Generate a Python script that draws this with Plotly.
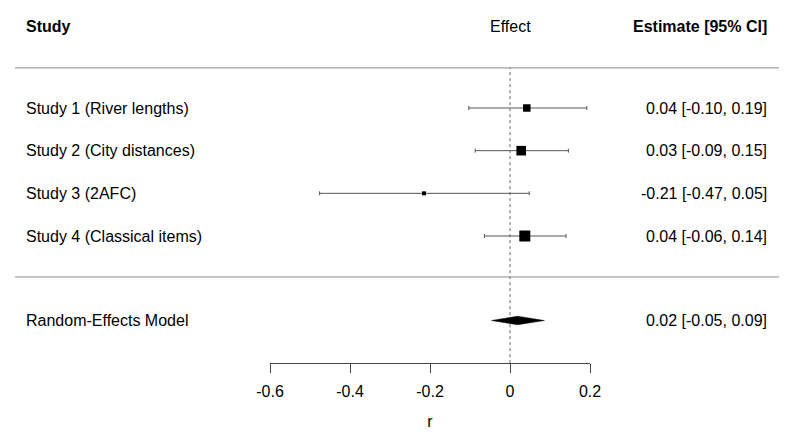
import plotly.graph_objects as go
import numpy as np

# ---- data ----
studies = ["Study 1 (River lengths)", "Study 2 (City distances)",
           "Study 3 (2AFC)", "Study 4 (Classical items)"]
est = [0.042, 0.028, -0.215, 0.037]
ci_lb = [-0.103, -0.087, -0.476, -0.064]
ci_ub = [0.192, 0.146, 0.048, 0.140]
est_labels = ["0.04 [-0.10, 0.19]", "0.03 [-0.09, 0.15]",
              "-0.21 [-0.47, 0.05]", "0.04 [-0.06, 0.14]"]
model_name = "Random-Effects Model"
model_est = 0.019
model_lb = -0.046
model_ub = 0.086
model_label = "0.02 [-0.05, 0.09]"
tick_vals = [-0.6, -0.4, -0.2, 0, 0.2]
tick_text = ["-0.6", "-0.4", "-0.2", "0", "0.2"]

# ---- layout helpers ----
W, H = 791, 441
OFF = 8  # page body margin
FONT = "Liberation Sans, Arial, sans-serif"
FS = 16
row_sp = 42.67
y_top = 6 + (108 - OFF) / row_sp
y_bot = 6 - (H - (108 - OFF)) / row_sp

def px(x):
    return (x - OFF) / W

k = len(studies)
rows = [6 - i for i in range(k)]
model_row = 1.02
hdr_row = 7.9
hdr_line = 6.94
sep_line = 2.04
axis_row = 0.02

# box sizes from inverse standard errors
se = (np.array(ci_ub) - np.array(ci_lb)) / 3.92
wi = 1 / se
sizes = 4 + (wi - wi.min()) / (wi.max() - wi.min()) * 7

fig = go.Figure()

# reference dotted line at 0
fig.add_trace(go.Scatter(x=[0, 0], y=[axis_row, hdr_line], mode="lines",
                         line=dict(color="#666666", width=1, dash="dot"),
                         hoverinfo="skip", showlegend=False, cliponaxis=False))

# study estimates with CIs
fig.add_trace(go.Scatter(
    x=est, y=rows, mode="markers", cliponaxis=False,
    marker=dict(symbol="square", size=list(sizes), color="black",
                opacity=1, line=dict(width=0)),
    error_x=dict(type="data", symmetric=False,
                 array=[u - e for u, e in zip(ci_ub, est)],
                 arrayminus=[e - l for e, l in zip(est, ci_lb)],
                 color="#555555", thickness=1, width=2),
    showlegend=False))

# diamond for model
dh = 0.1
fig.add_trace(go.Scatter(
    x=[model_lb, model_est, model_ub, model_est, model_lb],
    y=[model_row, model_row + dh, model_row, model_row - dh, model_row],
    mode="lines", fill="toself", fillcolor="black",
    line=dict(color="black", width=0.5), showlegend=False))

# horizontal separator lines
for yy in [hdr_line, sep_line]:
    fig.add_shape(type="line", x0=px(15), x1=px(779), y0=yy, y1=yy,
                  xref="paper", yref="y",
                  line=dict(color="#8a8a8a", width=1))

ann = []
lx = px(24)
rx = px(769)
ann.append(dict(x=lx, y=hdr_row, xref="paper", yref="y", text="<b>Study</b>",
                xanchor="left", showarrow=False))
ann.append(dict(x=0, y=hdr_row, xref="x", yref="y", text="Effect",
                xanchor="center", showarrow=False))
ann.append(dict(x=rx, y=hdr_row, xref="paper", yref="y", text="<b>Estimate [95% CI]</b>",
                xanchor="right", showarrow=False))
for s, r, lab in zip(studies, rows, est_labels):
    ann.append(dict(x=lx, y=r, xref="paper", yref="y", text=s,
                    xanchor="left", showarrow=False))
    ann.append(dict(x=rx, y=r, xref="paper", yref="y", text=lab,
                    xanchor="right", showarrow=False))
ann.append(dict(x=lx, y=model_row, xref="paper", yref="y", text=model_name,
                xanchor="left", showarrow=False))
ann.append(dict(x=rx, y=model_row, xref="paper", yref="y", text=model_label,
                xanchor="right", showarrow=False))

fig.update_layout(
    width=W, height=H, autosize=False,
    margin=dict(l=0, r=0, t=0, b=0, pad=0),
    paper_bgcolor="white", plot_bgcolor="white",
    font=dict(family=FONT, size=FS, color="black"),
    annotations=ann,
    xaxis=dict(range=[-0.6, 0.2], domain=[px(270), px(590)],
               anchor="free", position=1 - (363 - OFF) / H,
               showline=True, linecolor="#444444", linewidth=1,
               ticks="outside", ticklen=9, tickcolor="#444444",
               tickvals=tick_vals, ticktext=tick_text,
               ticklabelstandoff=5,
               showgrid=False, zeroline=False, fixedrange=True,
               automargin=False,
               tickfont=dict(family=FONT, size=FS, color="black"),
               title=dict(text="r", standoff=16,
                          font=dict(family=FONT, size=FS, color="black"))),
    yaxis=dict(range=[y_bot, y_top], domain=[0, 1], visible=False,
               fixedrange=True, automargin=False),
    showlegend=False,
)

fig.write_html("out.html")
